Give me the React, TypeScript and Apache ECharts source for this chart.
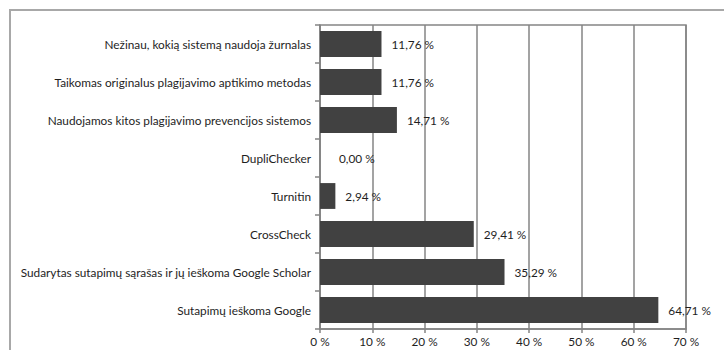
import React, { useEffect, useRef } from "react";
import * as echarts from "echarts";

const categories = [
  "Nežinau, kokią sistemą naudoja žurnalas",
  "Taikomas originalus plagijavimo aptikimo metodas",
  "Naudojamos kitos plagijavimo prevencijos sistemos",
  "DupliChecker",
  "Turnitin",
  "CrossCheck",
  "Sudarytas sutapimų sąrašas ir jų ieškoma Google Scholar",
  "Sutapimų ieškoma Google",
];
const values = [11.76, 11.76, 14.71, 0, 2.94, 29.41, 35.29, 64.71];
const xTicks = { min: 0, max: 70, interval: 10 };

const FONT = "Lato";
const TEXT = "#1e1e1e";
const GRID = "#858585";

export default function App() {
  const ref = useRef<HTMLDivElement>(null);
  useEffect(() => {
    if (!ref.current) return;
    const chart = echarts.init(ref.current, null, { renderer: "svg" });
    chart.setOption({
      animation: false,
      backgroundColor: "#fff",
      textStyle: { fontFamily: FONT },
      graphic: [
        {
          type: "rect",
          shape: { x: 10, y: 10, width: 900, height: 500 },
          style: { fill: "none", stroke: "#a8a8a8", lineWidth: 2 },
          silent: true,
        },
      ],
      grid: {
        left: 320,
        top: 25,
        right: 38,
        bottom: 21,
        show: true,
        borderColor: GRID,
        borderWidth: 1.5,
        backgroundColor: "transparent",
      },
      xAxis: {
        type: "value",
        min: xTicks.min,
        max: xTicks.max,
        interval: xTicks.interval,
        position: "bottom",
        axisLine: { show: true, lineStyle: { color: GRID, width: 1.5 } },
        axisTick: { show: true, length: 4, lineStyle: { color: GRID, width: 1.5 } },
        axisLabel: {
          formatter: "{value} %",
          color: TEXT,
          fontFamily: FONT,
          fontSize: 11.8,
          margin: 6,
        },
        splitLine: { show: true, lineStyle: { color: GRID, width: 1.5 } },
      },
      yAxis: {
        type: "category",
        data: categories,
        inverse: true,
        axisLine: { show: true, lineStyle: { color: GRID, width: 1.5 } },
        axisTick: { show: true, length: 5, lineStyle: { color: GRID, width: 1.5 } },
        axisLabel: {
          color: TEXT,
          fontFamily: FONT,
          fontSize: 11.8,
          margin: 9,
        },
        splitLine: { show: false },
      },
      series: [
        {
          type: "bar",
          data: values.map((v) =>
            v === 0 ? { value: v, label: { distance: 19 } } : v
          ),
          barCategoryGap: "32%",
          itemStyle: { color: "#414141" },
          label: {
            show: true,
            position: "right",
            distance: 10,
            color: TEXT,
            fontFamily: FONT,
            fontSize: 11.8,
            formatter: (p: any) => p.value.toFixed(2).replace(".", ",") + " %",
          },
        },
      ],
    });
    return () => chart.dispose();
  }, []);
  return (
    <div
      ref={ref}
      style={{ position: "fixed", left: 0, top: 0, width: 724, height: 350 }}
    />
  );
}
